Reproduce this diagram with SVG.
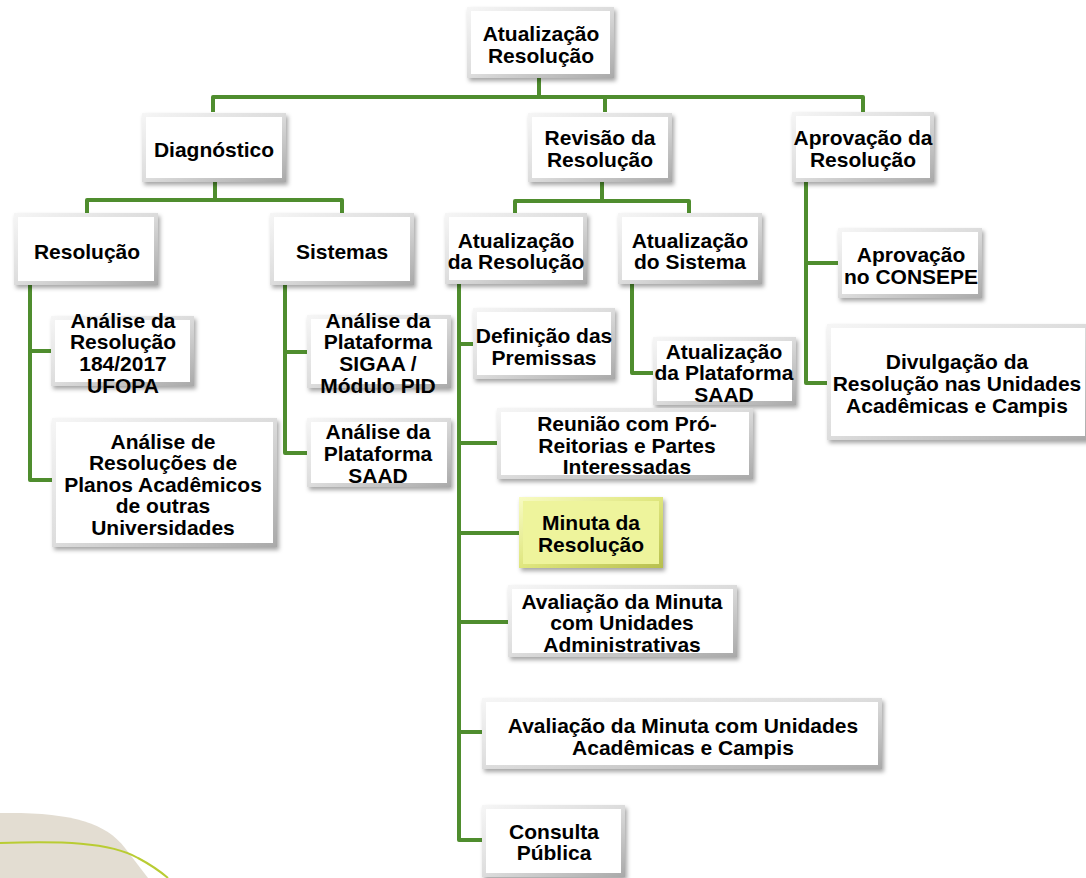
<svg xmlns="http://www.w3.org/2000/svg" width="1086" height="878" viewBox="0 0 1086 878">
<defs>
<linearGradient id="bev" x1="0" y1="0" x2="1" y2="1">
<stop offset="0" stop-color="#f6f6f6"/>
<stop offset="0.5" stop-color="#dcdcdc"/>
<stop offset="1" stop-color="#a9a9a9"/>
</linearGradient>
<linearGradient id="bevY" x1="0" y1="0" x2="1" y2="1">
<stop offset="0" stop-color="#f8fbc4"/>
<stop offset="0.5" stop-color="#dfe67e"/>
<stop offset="1" stop-color="#b7bf4e"/>
</linearGradient>
<filter id="sh" x="-10%" y="-10%" width="125%" height="130%">
<feDropShadow dx="2" dy="3" stdDeviation="2" flood-color="#000" flood-opacity="0.35"/>
</filter>
</defs>
<style>
.bo{fill:url(#bev);filter:url(#sh);}
.bi{fill:#ffffff;}
.yo{fill:url(#bevY);filter:url(#sh);}
.yi{fill:#eef49c;}
text{font-family:"Liberation Sans",Arial,sans-serif;font-weight:bold;font-size:21px;fill:#000;text-anchor:middle;}
.c{fill:none;stroke:#4f8d2e;stroke-width:4;stroke-linejoin:round;}
</style>
<rect width="1086" height="878" fill="#ffffff"/>
<path d="M0,813 C70,812 105,822 125,848 L148,878 L0,878 Z" fill="#e3ddd2"/>
<path d="M0,843 C60,841 110,842 138,858 Q155,867 168,878" fill="none" stroke="#b9cc33" stroke-width="2"/>
<g id="connectors">
<path class="c" d="M539,78 V97 M213,112 V97 H863 V112 M605,97 V112"/>
<path class="c" d="M215,182 V200 M87,213 V200 H342 V213"/>
<path class="c" d="M602,182 V201 M515,213 V201 H689 V213"/>
<path class="c" d="M806,182 V383 H827 M806,263 H838"/>
<path class="c" d="M30,285 V480 H52 M30,351 H51"/>
<path class="c" d="M285,285 V453 H307 M285,352 H307"/>
<path class="c" d="M459,284 V840 H482 M459,344 H473 M459,443 H497 M459,533 H519 M459,622 H508 M459,732 H482"/>
<path class="c" d="M632,284 V373 H653"/>
</g>
<g id="n1"><rect class="bo" x="467" y="7" width="147" height="71"/><rect class="bi" x="471" y="11" width="139" height="63"/><text x="541" y="41">Atualização</text><text x="541" y="63">Resolução</text></g>
<g id="n2"><rect class="bo" x="142" y="113" width="144" height="69"/><rect class="bi" x="146" y="117" width="136" height="61"/><text x="214" y="157">Diagnóstico</text></g>
<g id="n3"><rect class="bo" x="528" y="113" width="144" height="69"/><rect class="bi" x="532" y="117" width="136" height="61"/><text x="600" y="145">Revisão da</text><text x="600" y="167">Resolução</text></g>
<g id="n4"><rect class="bo" x="792" y="112" width="142" height="70"/><rect class="bi" x="796" y="116" width="134" height="62"/><text x="863" y="145">Aprovação da</text><text x="863" y="167">Resolução</text></g>
<g id="n5"><rect class="bo" x="14" y="213" width="144" height="72"/><rect class="bi" x="18" y="217" width="136" height="64"/><text x="87" y="259">Resolução</text></g>
<g id="n6"><rect class="bo" x="270" y="213" width="144" height="72"/><rect class="bi" x="274" y="217" width="136" height="64"/><text x="342" y="259">Sistemas</text></g>
<g id="n7"><rect class="bo" x="445" y="213" width="142" height="71"/><rect class="bi" x="449" y="217" width="134" height="63"/><text x="516" y="248">Atualização</text><text x="516" y="269">da Resolução</text></g>
<g id="n8"><rect class="bo" x="618" y="213" width="144" height="71"/><rect class="bi" x="622" y="217" width="136" height="63"/><text x="690" y="248">Atualização</text><text x="690" y="269">do Sistema</text></g>
<g id="n9"><rect class="bo" x="838" y="228" width="144" height="70"/><rect class="bi" x="842" y="232" width="136" height="62"/><text x="911" y="262">Aprovação</text><text x="911" y="284">no CONSEPE</text></g>
<g id="n10"><rect class="bo" x="827" y="324" width="262" height="116"/><rect class="bi" x="831" y="328" width="254" height="108"/><text x="957" y="369">Divulgação da</text><text x="957" y="391">Resolução nas Unidades</text><text x="957" y="413">Acadêmicas e Campis</text></g>
<g id="n11"><rect class="bo" x="51" y="316" width="143" height="70"/><rect class="bi" x="55" y="320" width="135" height="62"/><text x="123" y="328">Análise da</text><text x="123" y="349">Resolução</text><text x="123" y="371">184/2017</text><text x="123" y="393">UFOPA</text></g>
<g id="n12"><rect class="bo" x="52" y="418" width="225" height="129"/><rect class="bi" x="56" y="422" width="217" height="121"/><text x="163" y="449">Análise de</text><text x="163" y="470">Resoluções de</text><text x="163" y="492">Planos Acadêmicos</text><text x="163" y="513">de outras</text><text x="163" y="535">Universidades</text></g>
<g id="n13"><rect class="bo" x="307" y="315" width="144" height="73"/><rect class="bi" x="311" y="319" width="136" height="65"/><text x="378" y="328">Análise da</text><text x="378" y="349">Plataforma</text><text x="378" y="371">SIGAA /</text><text x="378" y="393">Módulo PID</text></g>
<g id="n14"><rect class="bo" x="307" y="418" width="144" height="69"/><rect class="bi" x="311" y="422" width="136" height="61"/><text x="378" y="439">Análise da</text><text x="378" y="461">Plataforma</text><text x="378" y="483">SAAD</text></g>
<g id="n15"><rect class="bo" x="473" y="308" width="142" height="71"/><rect class="bi" x="477" y="312" width="134" height="63"/><text x="544" y="343">Definição das</text><text x="544" y="365">Premissas</text></g>
<g id="n16"><rect class="bo" x="653" y="337" width="143" height="68"/><rect class="bi" x="657" y="341" width="135" height="60"/><text x="724" y="359">Atualização</text><text x="724" y="380">da Plataforma</text><text x="724" y="402">SAAD</text></g>
<g id="n17"><rect class="bo" x="497" y="408" width="256" height="71"/><rect class="bi" x="501" y="412" width="248" height="63"/><text x="627" y="431">Reunião com Pró-</text><text x="627" y="453">Reitorias e Partes</text><text x="627" y="474">Interessadas</text></g>
<g id="n18"><rect class="yo" x="519" y="497" width="144" height="71"/><rect class="yi" x="523" y="501" width="136" height="63"/><text x="591" y="530">Minuta da</text><text x="591" y="552">Resolução</text></g>
<g id="n19"><rect class="bo" x="508" y="585" width="229" height="72"/><rect class="bi" x="512" y="589" width="221" height="64"/><text x="622" y="609">Avaliação da Minuta</text><text x="622" y="630">com Unidades</text><text x="622" y="652">Administrativas</text></g>
<g id="n20"><rect class="bo" x="482" y="698" width="400" height="71"/><rect class="bi" x="486" y="702" width="392" height="63"/><text x="683" y="733">Avaliação da Minuta com Unidades</text><text x="683" y="755">Acadêmicas e Campis</text></g>
<g id="n21"><rect class="bo" x="482" y="805" width="143" height="72"/><rect class="bi" x="486" y="809" width="135" height="64"/><text x="554" y="839">Consulta</text><text x="554" y="860">Pública</text></g>
</svg>
